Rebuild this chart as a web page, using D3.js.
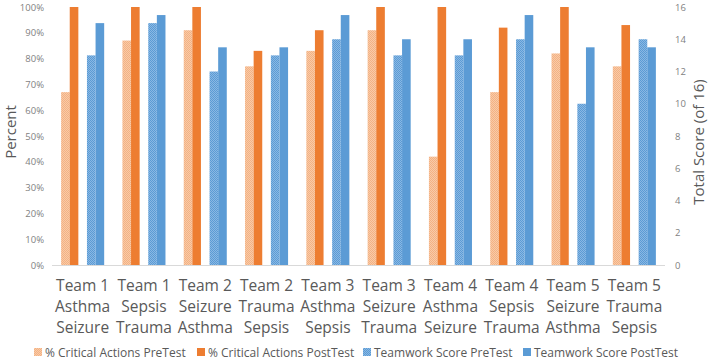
<!DOCTYPE html>
<html>
<head>
<meta charset="utf-8">
<script src="https://cdn.jsdelivr.net/npm/d3@7"></script>
<style>
  body { margin: 0; background: #fff; }
  text { font-family: "Open Sans", sans-serif; }
</style>
</head>
<body>
<svg width="709" height="363"></svg>
<script>
// data
let teams = ["Team 1", "Team 1", "Team 2", "Team 2", "Team 3", "Team 3", "Team 4", "Team 4", "Team 5", "Team 5"];
let scenarioA = ["Asthma", "Sepsis", "Seizure", "Trauma", "Asthma", "Seizure", "Asthma", "Sepsis", "Seizure", "Trauma"];
let scenarioB = ["Seizure", "Trauma", "Asthma", "Sepsis", "Sepsis", "Trauma", "Seizure", "Trauma", "Asthma", "Sepsis"];

let critPre  = [67, 87, 91, 77, 83, 91, 42, 67, 82, 77];     // percent
let critPost = [100, 100, 100, 83, 91, 100, 100, 92, 100, 93];
let teamPre  = [13, 15, 12, 13, 14, 13, 13, 14, 10, 14];      // score of 16
let teamPost = [15, 15.5, 13.5, 13.5, 15.5, 14, 14, 15.5, 13.5, 13.5];

let leftTicks = [0, 10, 20, 30, 40, 50, 60, 70, 80, 90, 100];
let rightTicks = [0, 2, 4, 6, 8, 10, 12, 14, 16];

let seriesNames = ["% Critical Actions PreTest", "% Critical Actions PostTest", "Teamwork Score PreTest", "Teamwork Score PostTest"];

let svg = d3.select('svg');
let margin = {top: 7, right: 44, bottom: 98, left: 52},
  width = +svg.attr("width") - margin.left - margin.right,
  height = +svg.attr("height") - margin.top - margin.bottom;

// patterns for the pretest bars
let defs = svg.append('defs');
function dotPattern(id, base, dot) {
  let p = defs.append('pattern').attr('id', id)
    .attr('width', 2).attr('height', 2).attr('patternUnits', 'userSpaceOnUse');
  p.append('rect').attr('width', 2).attr('height', 2).attr('fill', base);
  p.append('rect').attr('width', 1).attr('height', 1).attr('fill', dot);
  p.append('rect').attr('x', 1).attr('y', 1).attr('width', 1).attr('height', 1).attr('fill', dot);
}
dotPattern('orangePat', '#f4b183', '#f8cba8');
dotPattern('bluePat', '#5b9bd5', '#8ab8e3');

let colors = ['url(#orangePat)', '#ed7d31', 'url(#bluePat)', '#5b9bd5'];

let idx = d3.range(teams.length);

let x0 = d3.scaleBand().domain(idx).range([0, width]);
let x1 = d3.scaleBand().domain(["pre", "post", "gap", "tpre", "tpost"])
  .range([0, x0.bandwidth()]).paddingOuter(1.06);

let yL = d3.scaleLinear().domain([0, 100]).range([height, 0]);
let yR = d3.scaleLinear().domain([0, 16]).range([height, 0]);

let g = svg.append('g').attr('transform', `translate(${margin.left},${margin.top})`);

// bars
let bars = [
  {key: "pre", vals: critPre, y: yL, fill: colors[0]},
  {key: "post", vals: critPost, y: yL, fill: colors[1]},
  {key: "tpre", vals: teamPre, y: yR, fill: colors[2]},
  {key: "tpost", vals: teamPost, y: yR, fill: colors[3]}
];
bars.forEach(s => {
  g.selectAll(null)
    .data(idx)
    .enter().append('rect')
    .attr('x', i => x0(i) + x1(s.key))
    .attr('width', x1.bandwidth())
    .attr('y', i => s.y(s.vals[i]))
    .attr('height', i => height - s.y(s.vals[i]))
    .attr('fill', s.fill);
});

// x axis line
g.append('line')
  .attr('x1', 0).attr('x2', width)
  .attr('y1', height + 0.5).attr('y2', height + 0.5)
  .attr('stroke', '#d9d9d9');

// left axis
let leftAxis = g.append('g')
  .call(d3.axisLeft(yL).tickValues(leftTicks).tickSize(0).tickPadding(8).tickFormat(d => d + '%'));
leftAxis.select('.domain').remove();
leftAxis.selectAll('text').attr('fill', '#7f7f7f').style('font-size', '9.5px').style('font-family', '"Open Sans", sans-serif');

// right axis
let rightAxis = g.append('g')
  .attr('transform', `translate(${width},0)`)
  .call(d3.axisRight(yR).tickValues(rightTicks).tickSize(0).tickPadding(10));
rightAxis.select('.domain').remove();
rightAxis.selectAll('text').attr('fill', '#7f7f7f').style('font-size', '9.5px').style('font-family', '"Open Sans", sans-serif');

// category labels
let cat = g.append('g').selectAll('text')
  .data(idx).enter().append('text')
  .attr('text-anchor', 'middle')
  .attr('fill', '#595959')
  .style('font-size', '15.5px')
  .attr('transform', i => `translate(${x0(i) + x0.bandwidth() / 2},${height})`);
cat.append('tspan').attr('x', 0).attr('y', 26).text(i => teams[i]);
cat.append('tspan').attr('x', 0).attr('y', 47).text(i => scenarioA[i]);
cat.append('tspan').attr('x', 0).attr('y', 68).text(i => scenarioB[i]);

// axis titles
svg.append('text')
  .attr('transform', 'translate(16,132) rotate(-90)')
  .attr('text-anchor', 'middle')
  .attr('fill', '#595959')
  .style('font-size', '15px')
  .text('Percent');

svg.append('text')
  .attr('transform', 'translate(704,142) rotate(-90)')
  .attr('text-anchor', 'middle')
  .attr('fill', '#595959')
  .style('font-size', '15px')
  .text('Total Score (of 16)');

// legend
let legendX = [34, 197, 363, 523];
let legend = svg.append('g').selectAll('g')
  .data(seriesNames).enter().append('g')
  .attr('transform', (d, i) => `translate(${legendX[i]},348)`);
legend.append('rect')
  .attr('width', 8).attr('height', 8)
  .attr('fill', (d, i) => colors[i]);
legend.append('text')
  .attr('x', 11).attr('y', 8.5)
  .attr('fill', '#595959')
  .style('font-size', '12px')
  .text(d => d);
</script>
</body>
</html>
